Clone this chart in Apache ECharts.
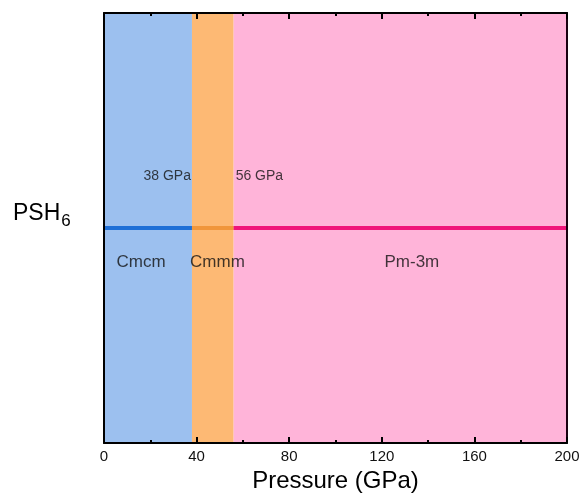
<!DOCTYPE html>
<html>
<head>
<meta charset="utf-8">
<script src="https://cdn.jsdelivr.net/npm/echarts@6/dist/echarts.min.js"></script>
<style>
  html, body { margin: 0; padding: 0; background: #fff; }
  #chart { width: 580px; height: 493px; }
</style>
</head>
<body>
<div id="chart"></div>
<script>
// Phase stability ranges of PSH6 (pressure in GPa)
const phaseNames = ['Cmcm', 'Cmmm', 'Pm-3m'];
const phaseRanges = [[0, 38], [38, 56], [56, 200]];
const transitionPressures = [38, 56];
const transitionLabels = ['38 GPa', '56 GPa'];
const fillColors = ['#9cc0ef', '#fdb974', '#ffb4d9'];
const lineColors = ['#1f6fd6', '#f0963c', '#f0147a'];
const phaseLabelX = [16, 49, 133];
const xTicks = [0, 40, 80, 120, 160, 200];

const chart = echarts.init(document.getElementById('chart'));
const font = 'Arial, "Liberation Sans", sans-serif';

const series = [];
phaseRanges.forEach((r, i) => {
  series.push({
    type: 'line',
    data: [[r[0], 0.5], [r[1], 0.5]],
    symbol: 'none',
    lineStyle: { color: lineColors[i], width: 4 },
    z: 3,
    markArea: {
      silent: true,
      itemStyle: { color: fillColors[i] },
      data: [[{ xAxis: r[0] }, { xAxis: r[1] }]]
    }
  });
});

// Phase names below the line
series.push({
  type: 'scatter',
  symbolSize: 0,
  data: phaseNames.map((n, i) => ({ value: [phaseLabelX[i], 0.42], name: n })),
  label: {
    show: true, position: 'inside', formatter: p => p.name,
    color: '#111', fontSize: 17, fontFamily: font
  },
  z: 5
});

// Transition pressures above the line
series.push({
  type: 'scatter',
  symbolSize: 0,
  data: transitionLabels.map((t, i) => ({
    value: [transitionPressures[i], 0.62], name: t,
    label: i === 0 ? { align: 'right', offset: [-1, 0] } : { align: 'left', offset: [2, 0] }
  })),
  label: {
    show: true, position: 'inside', formatter: p => p.name,
    color: '#111', fontSize: 14, fontFamily: font
  },
  z: 5
});

const frameLine = { show: true, onZero: false, lineStyle: { color: '#000', width: 2 } };
const ticks = { show: true, inside: true, length: 6, lineStyle: { color: '#000', width: 2 } };
const minor = { show: true, splitNumber: 2, length: 3, lineStyle: { color: '#000', width: 2 } };

chart.setOption({
  animation: false,
  grid: { left: 104, right: 13, top: 13, bottom: 50, show: false, containLabel: false, outerBoundsMode: 'none' },
  xAxis: [{
    type: 'value', min: 0, max: 200, interval: 40, z: 10,
    name: 'Pressure (GPa)', nameLocation: 'middle', nameGap: 26,
    nameTextStyle: { fontSize: 24, color: '#000', fontFamily: font },
    axisLine: frameLine, axisTick: ticks, minorTick: minor,
    axisLabel: { fontSize: 15, color: '#111', fontFamily: font, margin: 6,
      formatter: v => xTicks.includes(v) ? String(v) : '' },
    splitLine: { show: false }
  }, {
    type: 'value', min: 0, max: 200, interval: 40, position: 'top', z: 10,
    axisLine: frameLine, axisTick: ticks, minorTick: minor,
    axisLabel: { show: false },
    splitLine: { show: false }
  }],
  yAxis: [{
    type: 'value', min: 0, max: 1, z: 10,
    axisLine: frameLine,
    axisTick: { show: false }, axisLabel: { show: false }, splitLine: { show: false }
  }, {
    type: 'value', min: 0, max: 1, position: 'right', z: 10,
    axisLine: { show: true, onZero: false, lineStyle: { color: '#1a0010', width: 2 } },
    axisTick: { show: false }, axisLabel: { show: false }, splitLine: { show: false }
  }],
  graphic: [{
    type: 'text', left: 13, top: 202,
    style: {
      text: '{a|PSH}{b|6}',
      rich: {
        a: { fontSize: 23, fontFamily: font, fill: '#000' },
        b: { fontSize: 17, fontFamily: font, fill: '#000', padding: [15, 0, 0, 1] }
      }
    }
  }],
  series: series
});
</script>
</body>
</html>
